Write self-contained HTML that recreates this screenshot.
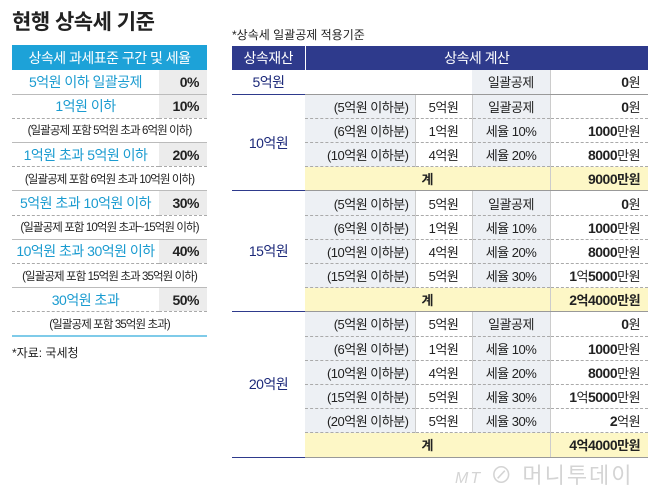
<!DOCTYPE html>
<html><head><meta charset="utf-8"><style>
*{margin:0;padding:0;box-sizing:border-box}
body{width:658px;height:493px;background:#fff;position:relative;overflow:hidden;font-family:"Liberation Sans","Noto Sans CJK KR",sans-serif;color:#222}
.abs{position:absolute}
#title{left:12px;top:6px;font-size:21px;font-weight:bold;color:#222;letter-spacing:-0.5px}
#lt{position:absolute;left:12px;top:45px;width:195px;border-collapse:collapse;table-layout:fixed}
#lt td{height:24.2px;font-size:13px;text-align:center;padding:0;letter-spacing:-0.5px;white-space:nowrap;overflow:hidden}
#lt .hd{background:#1da2d8;color:#fff;font-size:14px;height:25px}
#lt .m td.l{color:#1a9bd0;font-size:14px}
#lt .m td.p{background:#ececec;font-weight:bold;text-align:right;padding-right:8px;font-size:14px}
#lt .p2 td{font-size:11.5px;color:#222;letter-spacing:-0.9px}
#lt tr.m td{border-bottom:1px dashed #aaa}
#lt tr.s td{border-bottom:1px solid #bbb}
#lt tr.last td{border-bottom:2px solid #7fcbe9}
#rt{position:absolute;left:232px;top:46px;width:416px;border-collapse:collapse;table-layout:fixed}
#rt td{height:24.2px;font-size:13px;padding:0;letter-spacing:-0.5px;white-space:nowrap}
#rt .hd td{background:#2e3a8c;color:#fff;text-align:center;font-size:14px;height:24px}
#rt td.a{text-align:center;color:#1d2a7a;font-size:14px;border-bottom:1px solid #2e3a8c}
#rt td.b{background:#edf0f4;text-align:right;padding-right:6px}
#rt td.c{text-align:center;border-left:1px solid #ccc;border-right:1px solid #ccc}
#rt td.d{background:#edf0f4;text-align:center}
#rt td.e{text-align:right;padding-right:8px;border-left:1px solid #ccc}
#rt td.e b{font-size:14px}
#rt tr.r td.b,#rt tr.r td.c,#rt tr.r td.d,#rt tr.r td.e{border-bottom:1px dashed #aaa}
#rt tr.t td{background:#fdf7c6;border-bottom:1px solid #999}
#rt tr.t td.tl{text-align:center;font-weight:bold}
#rt tr.t td.e{font-weight:bold}
</style></head><body>
<div id="title" class="abs">현행 상속세 기준</div>
<table id="lt">
<colgroup><col style="width:147px"><col style="width:48px"></colgroup>
<tr><td class="hd" colspan="2">상속세 과세표준 구간 및 세율</td></tr>
<tr class="m s"><td class="l">5억원 이하 일괄공제</td><td class="p">0%</td></tr>
<tr class="m"><td class="l">1억원 이하</td><td class="p">10%</td></tr>
<tr class="p2 s"><td colspan="2">(일괄공제 포함 5억원 초과 6억원 이하)</td></tr>
<tr class="m"><td class="l">1억원 초과 5억원 이하</td><td class="p">20%</td></tr>
<tr class="p2 s"><td colspan="2">(일괄공제 포함 6억원 초과 10억원 이하)</td></tr>
<tr class="m"><td class="l">5억원 초과 10억원 이하</td><td class="p">30%</td></tr>
<tr class="p2 s"><td colspan="2">(일괄공제 포함 10억원 초과~15억원 이하)</td></tr>
<tr class="m"><td class="l">10억원 초과 30억원 이하</td><td class="p">40%</td></tr>
<tr class="p2 s"><td colspan="2">(일괄공제 포함 15억원 초과 35억원 이하)</td></tr>
<tr class="m"><td class="l">30억원 초과</td><td class="p">50%</td></tr>
<tr class="p2 last"><td colspan="2">(일괄공제 포함 35억원 초과)</td></tr>
</table>
<div class="abs" style="left:12px;top:344px;font-size:12px">*자료: 국세청</div>
<div class="abs" style="left:232px;top:26px;font-size:12px">*상속세 일괄공제 적용기준</div>
<table id="rt">
<colgroup><col style="width:73px"><col style="width:110px"><col style="width:57px"><col style="width:78px"><col style="width:98px"></colgroup>
<tr class="hd"><td style="border-right:1px solid #fff">상속재산</td><td colspan="4">상속세 계산</td></tr>
<tr><td class="a">5억원</td><td colspan="2" style="border-bottom:1px solid #999"></td><td class="d" style="border-bottom:1px solid #999">일괄공제</td><td class="e" style="border-bottom:1px solid #999"><b>0</b>원</td></tr>
<tr class="r"><td class="a" rowspan="4">10억원</td><td class="b">(5억원 이하분)</td><td class="c">5억원</td><td class="d">일괄공제</td><td class="e"><b>0</b>원</td></tr>
<tr class="r"><td class="b">(6억원 이하분)</td><td class="c">1억원</td><td class="d">세율 10%</td><td class="e"><b>1000</b>만원</td></tr>
<tr class="r"><td class="b">(10억원 이하분)</td><td class="c">4억원</td><td class="d">세율 20%</td><td class="e"><b>8000</b>만원</td></tr>
<tr class="t"><td class="tl" colspan="3">계</td><td class="e"><b>9000</b>만원</td></tr>
<tr class="r"><td class="a" rowspan="5">15억원</td><td class="b">(5억원 이하분)</td><td class="c">5억원</td><td class="d">일괄공제</td><td class="e"><b>0</b>원</td></tr>
<tr class="r"><td class="b">(6억원 이하분)</td><td class="c">1억원</td><td class="d">세율 10%</td><td class="e"><b>1000</b>만원</td></tr>
<tr class="r"><td class="b">(10억원 이하분)</td><td class="c">4억원</td><td class="d">세율 20%</td><td class="e"><b>8000</b>만원</td></tr>
<tr class="r"><td class="b">(15억원 이하분)</td><td class="c">5억원</td><td class="d">세율 30%</td><td class="e"><b>1</b>억<b>5000</b>만원</td></tr>
<tr class="t"><td class="tl" colspan="3">계</td><td class="e"><b>2</b>억<b>4000</b>만원</td></tr>
<tr class="r"><td class="a" rowspan="6">20억원</td><td class="b">(5억원 이하분)</td><td class="c">5억원</td><td class="d">일괄공제</td><td class="e"><b>0</b>원</td></tr>
<tr class="r"><td class="b">(6억원 이하분)</td><td class="c">1억원</td><td class="d">세율 10%</td><td class="e"><b>1000</b>만원</td></tr>
<tr class="r"><td class="b">(10억원 이하분)</td><td class="c">4억원</td><td class="d">세율 20%</td><td class="e"><b>8000</b>만원</td></tr>
<tr class="r"><td class="b">(15억원 이하분)</td><td class="c">5억원</td><td class="d">세율 30%</td><td class="e"><b>1</b>억<b>5000</b>만원</td></tr>
<tr class="r"><td class="b">(20억원 이하분)</td><td class="c">5억원</td><td class="d">세율 30%</td><td class="e"><b>2</b>억원</td></tr>
<tr class="t"><td class="tl" colspan="3">계</td><td class="e"><b>4</b>억<b>4000</b>만원</td></tr>
</table>
<div class="abs" style="left:455px;top:458px;font-size:22px;color:#d4d4d4;letter-spacing:2px"><i style="font-size:16px">MT</i> ⊘ 머니투데이</div>
</body></html>
